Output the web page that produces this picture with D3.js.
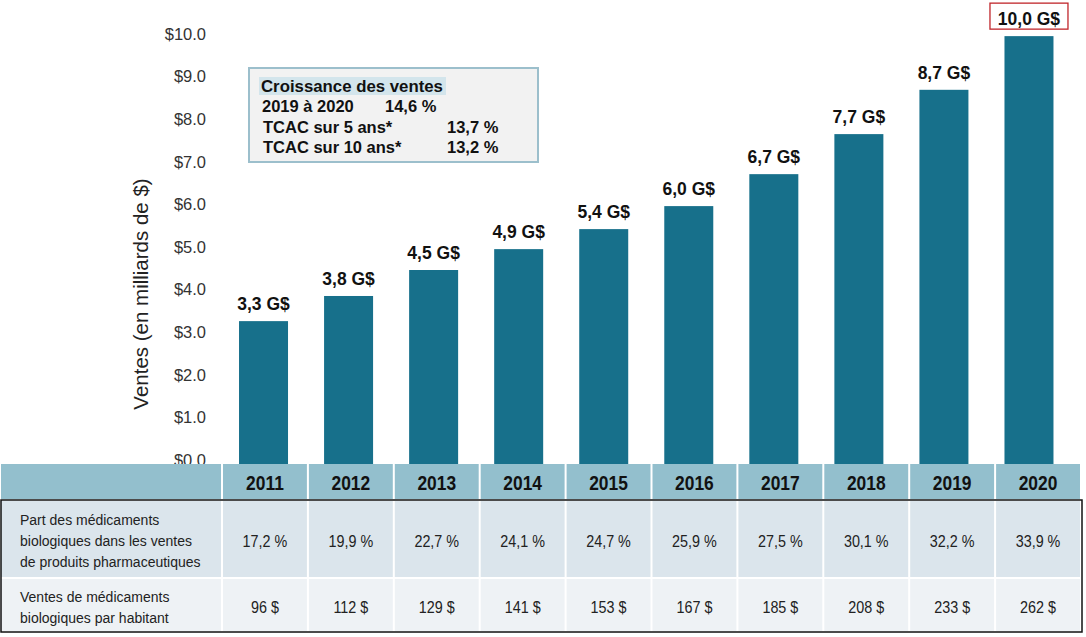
<!DOCTYPE html>
<html>
<head>
<meta charset="utf-8">
<script src="https://cdn.jsdelivr.net/npm/d3@7"></script>
<style>
  body { margin: 0; background: #fff; }
  svg { font-family: "Liberation Sans", Arial, sans-serif; }
</style>
</head>
<body>
<svg id="chart" width="1086" height="637"></svg>
<script>
// Data
var years = ['2011','2012','2013','2014','2015','2016','2017','2018','2019','2020'];
var sales = [3.26, 3.85, 4.46, 4.95, 5.42, 5.96, 6.71, 7.65, 8.69, 9.95];
var salesLabels = ['3,3 G$','3,8 G$','4,5 G$','4,9 G$','5,4 G$','6,0 G$','6,7 G$','7,7 G$','8,7 G$','10,0 G$'];
var shareRow = ['17,2 %','19,9 %','22,7 %','24,1 %','24,7 %','25,9 %','27,5 %','30,1 %','32,2 %','33,9 %'];
var perCapitaRow = ['96 $','112 $','129 $','141 $','153 $','167 $','185 $','208 $','233 $','262 $'];
var rowLabels = [
  ['Part des médicaments', 'biologiques dans les ventes', 'de produits pharmaceutiques'],
  ['Ventes de médicaments', 'biologiques par habitant']
];
var yTicks = [0,1,2,3,4,5,6,7,8,9,10];
var growthTitle = 'Croissance des ventes';
var growthLines = [
  ['2019 à 2020', '14,6 %'],
  ['TCAC sur 5 ans*', '13,7 %'],
  ['TCAC sur 10 ans*', '13,2 %']
];

var svg = d3.select('#chart');

// table columns and chart bars use slightly different spacing
var x = d3.scaleBand().domain(years).range([222, 1081]).padding(0);
var xBar = d3.scaleBand().domain(years).range([221, 1071.5]).padding(0);
var y = d3.scaleLinear().domain([0, 10]).range([460, 34]);
var barW = 49;
var narrow = 0.87; // horizontal squeeze to mimic a narrow face

// Y axis labels
var yAxis = d3.axisLeft(y).tickValues(yTicks)
  .tickFormat(d => '$' + d.toFixed(1)).tickSize(0).tickPadding(0);
var yg = svg.append('g').attr('transform', 'translate(206,0)').call(yAxis);
yg.select('.domain').remove();
yg.selectAll('text')
  .style('font-family', '"Liberation Sans", Arial, sans-serif')
  .style('font-size', '16.5px')
  .attr('fill', '#333');

svg.append('text')
  .attr('transform', 'translate(148,294) rotate(-90)')
  .attr('text-anchor', 'middle')
  .style('font-size', '20.5px')
  .attr('fill', '#222')
  .text('Ventes (en milliards de $)');

// Bars
svg.selectAll('rect.bar').data(years).join('rect')
  .attr('class', 'bar')
  .attr('x', d => xBar(d) + xBar.bandwidth() / 2 - barW / 2)
  .attr('width', barW)
  .attr('y', (d, i) => y(sales[i]))
  .attr('height', (d, i) => y(0) - y(sales[i]) + 4)
  .attr('fill', '#17708b');

svg.selectAll('text.val').data(years).join('text')
  .attr('class', 'val')
  .attr('x', d => xBar(d) + xBar.bandwidth() / 2)
  .attr('y', (d, i) => y(sales[i]) - 11)
  .attr('text-anchor', 'middle')
  .style('font-size', '17.5px')
  .style('font-weight', 'bold')
  .attr('fill', '#111')
  .text((d, i) => salesLabels[i]);

// red box around last label
var last = years.length - 1;
svg.append('rect')
  .attr('x', xBar(years[last]) + xBar.bandwidth() / 2 - 39)
  .attr('y', y(sales[last]) - 33)
  .attr('width', 78)
  .attr('height', 26)
  .attr('fill', 'none')
  .attr('stroke', '#c0262b')
  .attr('stroke-width', 1.3);

// Growth box
var box = svg.append('g');
box.append('rect')
  .attr('x', 249).attr('y', 68).attr('width', 289).attr('height', 94)
  .attr('fill', '#f2f2f2').attr('stroke', '#9cbfcc').attr('stroke-width', 2);
box.append('rect')
  .attr('x', 259).attr('y', 77).attr('width', 187).attr('height', 18)
  .attr('fill', '#d3e5ec');
box.append('text')
  .attr('x', 261).attr('y', 92)
  .style('font-size', '16.8px').style('font-weight', 'bold').attr('fill', '#111')
  .text(growthTitle);
var labX = [262, 263, 263];
var valX = [385, 447, 447];
growthLines.forEach(function(l, i) {
  box.append('text')
    .attr('x', labX[i]).attr('y', 112 + i * 20.5)
    .style('font-size', '16.5px').style('font-weight', 'bold').attr('fill', '#111')
    .text(l[0]);
  box.append('text')
    .attr('x', valX[i]).attr('y', 112 + i * 20.5)
    .style('font-size', '16.5px').style('font-weight', 'bold').attr('fill', '#111')
    .text(l[1]);
});

// Table
var tbl = svg.append('g');
var rowsY = [[463, 500], [500, 578], [578, 632]];
var fills = ['#93bfcd', '#dbe5ec', '#eef2f5'];
var cols = [[0, 222]].concat(years.map(d => [x(d), x(d) + x.bandwidth()]));

rowsY.forEach(function(r, ri) {
  tbl.selectAll(null).data(cols).join('rect')
    .attr('x', c => c[0] + 1)
    .attr('y', r[0] + 1)
    .attr('width', c => c[1] - c[0] - 2)
    .attr('height', r[1] - r[0] - 2)
    .attr('fill', fills[ri]);
});

tbl.append('rect')
  .attr('x', 1).attr('y', 500).attr('width', 1081).attr('height', 132)
  .attr('fill', 'none').attr('stroke', '#111').attr('stroke-width', 1.5);

tbl.selectAll('text.yr').data(years).join('text')
  .attr('class', 'yr')
  .attr('transform', d => 'translate(' + (x(d) + x.bandwidth() / 2) + ',490) scale(' + narrow + ',1)')
  .attr('text-anchor', 'middle')
  .style('font-size', '20px').style('font-weight', 'bold').attr('fill', '#111')
  .text(d => d);

[shareRow, perCapitaRow].forEach(function(row, ri) {
  var cy = ri === 0 ? 547 : 613;
  tbl.selectAll(null).data(row).join('text')
    .attr('transform', (d, i) => 'translate(' + (x(years[i]) + x.bandwidth() / 2) + ',' + cy + ') scale(' + narrow + ',1)')
    .attr('text-anchor', 'middle')
    .style('font-size', '16.5px').attr('fill', '#222')
    .text(d => d);
});

rowLabels.forEach(function(lines, ri) {
  var y0 = ri === 0 ? 525 : 602;
  lines.forEach(function(t, li) {
    tbl.append('text')
      .attr('x', 20).attr('y', y0 + li * 21)
      .style('font-size', '14px').attr('fill', '#222')
      .text(t);
  });
});
</script>
</body>
</html>
